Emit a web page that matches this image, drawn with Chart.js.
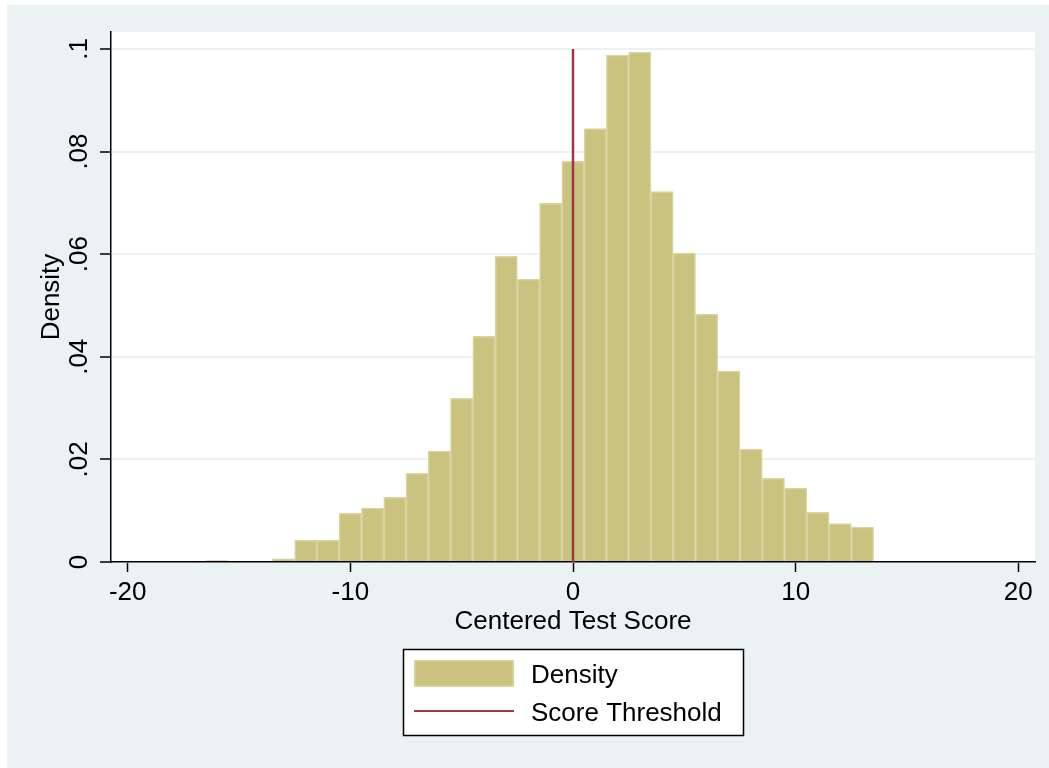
<!DOCTYPE html>
<html>
<head>
<meta charset="utf-8">
<script src="https://cdn.jsdelivr.net/npm/chart.js@4"></script>
<style>
  html, body { margin: 0; padding: 0; background: #fff; }
  #wrap { width: 1049px; height: 768px; }
</style>
</head>
<body>
<div id="wrap"><canvas id="chart" width="1049" height="768"></canvas></div>
<script>
// Histogram bins (bin centres, width 1) and their densities
const bins = [-16, -13, -12, -11, -10, -9, -8, -7, -6, -5, -4, -3, -2, -1,
              0, 1, 2, 3, 4, 5, 6, 7, 8, 9, 10, 11, 12, 13];
const density = [0.0003, 0.0006, 0.0042, 0.0042, 0.0095, 0.0105, 0.0126, 0.0173, 0.0216, 0.0319,
                 0.0440, 0.0596, 0.0551, 0.0699, 0.0781, 0.0845, 0.0988, 0.0994, 0.0722, 0.0602,
                 0.0483, 0.0372, 0.0220, 0.0163, 0.0144, 0.0097, 0.0075, 0.0068];

// Score threshold drawn as a vertical line
const thresholdScore = 0;
const thresholdSpan = [0, 0.1];

// Axis ticks
const xTickValues = [-20, -10, 0, 10, 20];
const yTickValues = [0, 0.02, 0.04, 0.06, 0.08, 0.1];
const yTickLabels = ['0', '.02', '.04', '.06', '.08', '.1'];

const barFill = '#c9c37f';
const barEdge = '#d9d4a0';
const lineRed = '#9c3a42';
const outerBg = '#eaf2f3';
const fontFamily = '"Liberation Sans", Arial, Helvetica, sans-serif';
const fontSize = 26;

// Paint the outer graph region and the white plot region
const backdrop = {
    id: 'backdrop',
    beforeDraw(chart) {
        const { ctx, chartArea } = chart;
        ctx.save();
        ctx.fillStyle = '#ffffff';
        ctx.fillRect(0, 0, chart.width, chart.height);
        ctx.fillStyle = outerBg;
        ctx.fillRect(7, 5, chart.width - 7, chart.height - 5);
        ctx.fillStyle = '#ffffff';
        ctx.fillRect(chartArea.left, chartArea.top, chartArea.right - chartArea.left, chartArea.bottom - chartArea.top);
        ctx.restore();
    }
};

// Boxed legend under the x axis title
const boxLegend = {
    id: 'boxLegend',
    afterDraw(chart) {
        const { ctx, chartArea } = chart;
        const bars = chart.data.datasets.find(d => d.type === 'bar');
        const line = chart.data.datasets.find(d => d.type === 'line');
        const w = 340, h = 86;
        const left = Math.round((chartArea.left + chartArea.right) / 2 - w / 2) + 0.5;
        const top = 649.5;
        ctx.save();
        ctx.fillStyle = '#ffffff';
        ctx.fillRect(left, top, w, h);
        ctx.strokeStyle = '#000000';
        ctx.lineWidth = 1.5;
        ctx.strokeRect(left, top, w, h);

        // bar swatch
        ctx.fillStyle = bars.borderColor;
        ctx.fillRect(left + 10.5, 660, 100, 27);
        ctx.fillStyle = bars.backgroundColor;
        ctx.fillRect(left + 12, 661.5, 97, 24);

        // line swatch
        ctx.strokeStyle = line.borderColor;
        ctx.lineWidth = 2;
        ctx.beginPath();
        ctx.moveTo(left + 10.5, 711);
        ctx.lineTo(left + 110.5, 711);
        ctx.stroke();

        ctx.fillStyle = '#000000';
        ctx.font = fontSize + 'px ' + fontFamily;
        ctx.textAlign = 'left';
        ctx.textBaseline = 'middle';
        ctx.fillText(bars.label, left + 127.5, 676);
        ctx.fillText(line.label, left + 127.5, 714);
        ctx.restore();
    }
};

const ctx = document.getElementById('chart').getContext('2d');
const chart = new Chart(ctx, {
    data: {
        datasets: [{
            type: 'line',
            label: 'Score Threshold',
            data: thresholdSpan.map(y => ({ x: thresholdScore, y: y })),
            borderColor: lineRed,
            borderWidth: 2.5,
            pointRadius: 0,
            fill: false,
            order: 0
        }, {
            type: 'bar',
            label: 'Density',
            data: bins.map((b, i) => ({ x: b, y: density[i] })),
            backgroundColor: barFill,
            borderColor: barEdge,
            borderWidth: 1.5,
            categoryPercentage: 1,
            barPercentage: 1,
            order: 1
        }]
    },
    options: {
        responsive: false,
        devicePixelRatio: 1,
        animation: false,
        layout: {
            padding: { left: 7, top: 32, right: 14, bottom: 126 }
        },
        plugins: {
            legend: { display: false },
            tooltip: { enabled: false }
        },
        scales: {
            x: {
                type: 'linear',
                min: -20.75,
                max: 20.75,
                offset: false,
                afterFit: scale => { scale.height = 80; },
                afterBuildTicks: scale => { scale.ticks = xTickValues.map(v => ({ value: v })); },
                grid: {
                    offset: false,
                    drawOnChartArea: false,
                    drawTicks: true,
                    tickLength: 10,
                    tickColor: '#000000',
                    tickWidth: 1.5
                },
                border: { display: true, color: '#000000', width: 1.5 },
                ticks: {
                    padding: 5,
                    maxRotation: 0,
                    color: '#000000',
                    font: { family: fontFamily, size: fontSize },
                    callback: v => String(v)
                },
                title: {
                    display: true,
                    text: 'Centered Test Score',
                    color: '#000000',
                    font: { family: fontFamily, size: fontSize },
                    padding: { top: 0, bottom: 5 }
                }
            },
            y: {
                type: 'linear',
                min: 0,
                max: 0.1033,
                afterFit: scale => { scale.width = 104; },
                afterBuildTicks: scale => { scale.ticks = yTickValues.map(v => ({ value: v })); },
                grid: {
                    color: outerBg,
                    lineWidth: 2,
                    drawTicks: true,
                    tickLength: 11,
                    tickColor: '#000000',
                    tickWidth: 1.5
                },
                border: { display: true, color: '#000000', width: 1.5 },
                ticks: {
                    minRotation: 90,
                    maxRotation: 90,
                    crossAlign: 'center',
                    padding: 2,
                    color: '#000000',
                    font: { family: fontFamily, size: fontSize },
                    callback: (v, i) => yTickLabels[i]
                },
                title: {
                    display: true,
                    text: 'Density',
                    color: '#000000',
                    font: { family: fontFamily, size: fontSize },
                    padding: { top: 29, bottom: 0 }
                }
            }
        }
    },
    plugins: [backdrop, boxLegend]
});
</script>
</body>
</html>
